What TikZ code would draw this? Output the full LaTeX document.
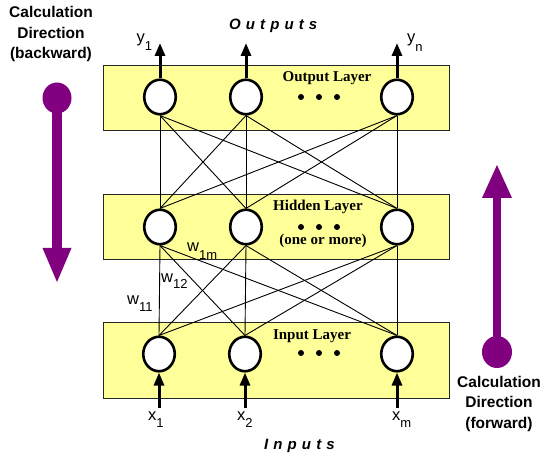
\documentclass[tikz,border=0pt]{standalone}
\usepackage{fontspec}
\setmainfont{Liberation Serif}
\setsansfont{Liberation Sans}
\newfontfamily\spacedsans[LetterSpace=34]{Liberation Sans}
\usetikzlibrary{arrows.meta,shapes.geometric}
\definecolor{layerfill}{HTML}{FFFF99}
\definecolor{calcpurple}{HTML}{800080}
\newcommand{\lblsub}[3][-7pt]{{\sffamily\fontsize{16.5}{16.5}\selectfont #2}\raisebox{#1}{\sffamily\fontsize{13}{13}\selectfont #3}}
\begin{document}
\begin{tikzpicture}[x=1pt,y=-1pt,
  layerbox/.style={draw=black!85, line width=0.8pt, fill=layerfill, inner sep=0pt,
    minimum width=346pt, anchor=north west},
  neuron/.style={ellipse, draw=black, line width=2.6pt, fill=white, inner sep=0pt,
    minimum width=31.5pt, minimum height=34.5pt},
  edge/.style={draw=black, line width=0.9pt},
  ioarrow/.style={draw=black, line width=3pt, -{Triangle[length=13pt,width=10pt]}},
  layertext/.style={font=\bfseries\fontsize{15}{15}\selectfont, inner sep=0pt, anchor=base},
  sublabel/.style={inner sep=0pt, anchor=base west},
  calctext/.style={font=\sffamily\bfseries\fontsize{15.5}{20.5}\selectfont, align=center, inner sep=0pt, anchor=north},
  iotext/.style={font=\spacedsans\bfseries\itshape\fontsize{15}{15}\selectfont, inner sep=0pt, anchor=base west},
  dot/.style={fill=black}
]
\useasboundingbox (0,0) rectangle (542,457);

% layer boxes
\node[layerbox, minimum height=65pt] (outbox) at (103,65) {};
\node[layerbox, minimum height=65pt] (hidbox) at (103,194) {};
\node[layerbox, minimum height=76pt] (inbox) at (103,322) {};

% neurons
\node[neuron] (o1) at (160,97) {};
\node[neuron] (o2) at (246,97) {};
\node[neuron] (o3) at (397,97) {};
\node[neuron] (h1) at (160,227) {};
\node[neuron] (h2) at (246,227) {};
\node[neuron] (h3) at (397,227) {};
\node[neuron] (i1) at (159,354) {};
\node[neuron] (i2) at (245,354) {};
\node[neuron] (i3) at (397,354) {};

% connections
\foreach \a in {o1,o2,o3}
  \foreach \b in {h1,h2,h3}
    \draw[edge] (\a.south) -- (\b.north);
\foreach \a in {h1,h2,h3}
  \foreach \b in {i1,i2,i3}
    \draw[edge] (\a.south) -- (\b.north);

% output arrows
\coordinate (y1end) at (160,43);
\coordinate (y2end) at (246,43);
\coordinate (y3end) at (397,43);
\draw[ioarrow] (o1.north) -- (y1end);
\draw[ioarrow] (o2.north) -- (y2end);
\draw[ioarrow] (o3.north) -- (y3end);

% input arrows
\coordinate (x1start) at (159,408);
\coordinate (x2start) at (245,408);
\coordinate (x3start) at (397,408);
\draw[ioarrow] (x1start) -- (i1.south);
\draw[ioarrow] (x2start) -- (i2.south);
\draw[ioarrow] (x3start) -- (i3.south);

% ellipsis dots
\foreach \y in {97,227,353}
  \foreach \x in {301,319,337}
    \fill[dot] (\x,\y) circle (3pt);

% layer labels
\node[layertext] (outlbl) at (327,82) {Output Layer};
\node[layertext] (hidlbl) at (318,211) {Hidden Layer};
\node[layertext] (hidsub) at (323,245) {(one or more)};
\node[layertext] (inlbl) at (312,340) {Input Layer};

% io labels
\node[iotext] (outputs) at (229,30) {Outputs};
\node[iotext] (inputs) at (264,450) {Inputs};
\node[sublabel] (ly1) at (136.5,42.6) {\lblsub[-8pt]{y}{1}};
\node[sublabel] (lyn) at (407,42.6) {\lblsub[-9pt]{y}{n}};
\node[sublabel] (lx1) at (148,421) {\lblsub[-6.5pt]{x}{1}};
\node[sublabel] (lx2) at (237,421) {\lblsub[-6.5pt]{x}{2}};
\node[sublabel] (lxm) at (392,421) {\lblsub[-6.5pt]{x}{m}};
\node[sublabel] (w1m) at (187,252) {\lblsub[-8pt]{w}{1m}};
\node[sublabel] (w12) at (161,283) {\lblsub[-6pt]{w}{12}};
\node[sublabel] (w11) at (127,305) {\lblsub[-7pt]{w}{11}};

% calculation direction arrows
\fill[calcpurple] (57,98) ellipse [x radius=14.5pt, y radius=15.5pt];
\fill[calcpurple] (52,98) rectangle (62,248);
\fill[calcpurple] (42.5,248) -- (71.5,248) -- (57,282) -- cycle;
\node[calctext] (back) at (51,6.5) {Calculation\\Direction\\(backward)};

\fill[calcpurple] (497,352) ellipse [x radius=15pt, y radius=16pt];
\fill[calcpurple] (493,352) rectangle (501,198);
\fill[calcpurple] (482,198) -- (512,198) -- (497,165) -- cycle;
\node[calctext] (fwd) at (499,376) {Calculation\\Direction\\(forward)};
\end{tikzpicture}
\end{document}
